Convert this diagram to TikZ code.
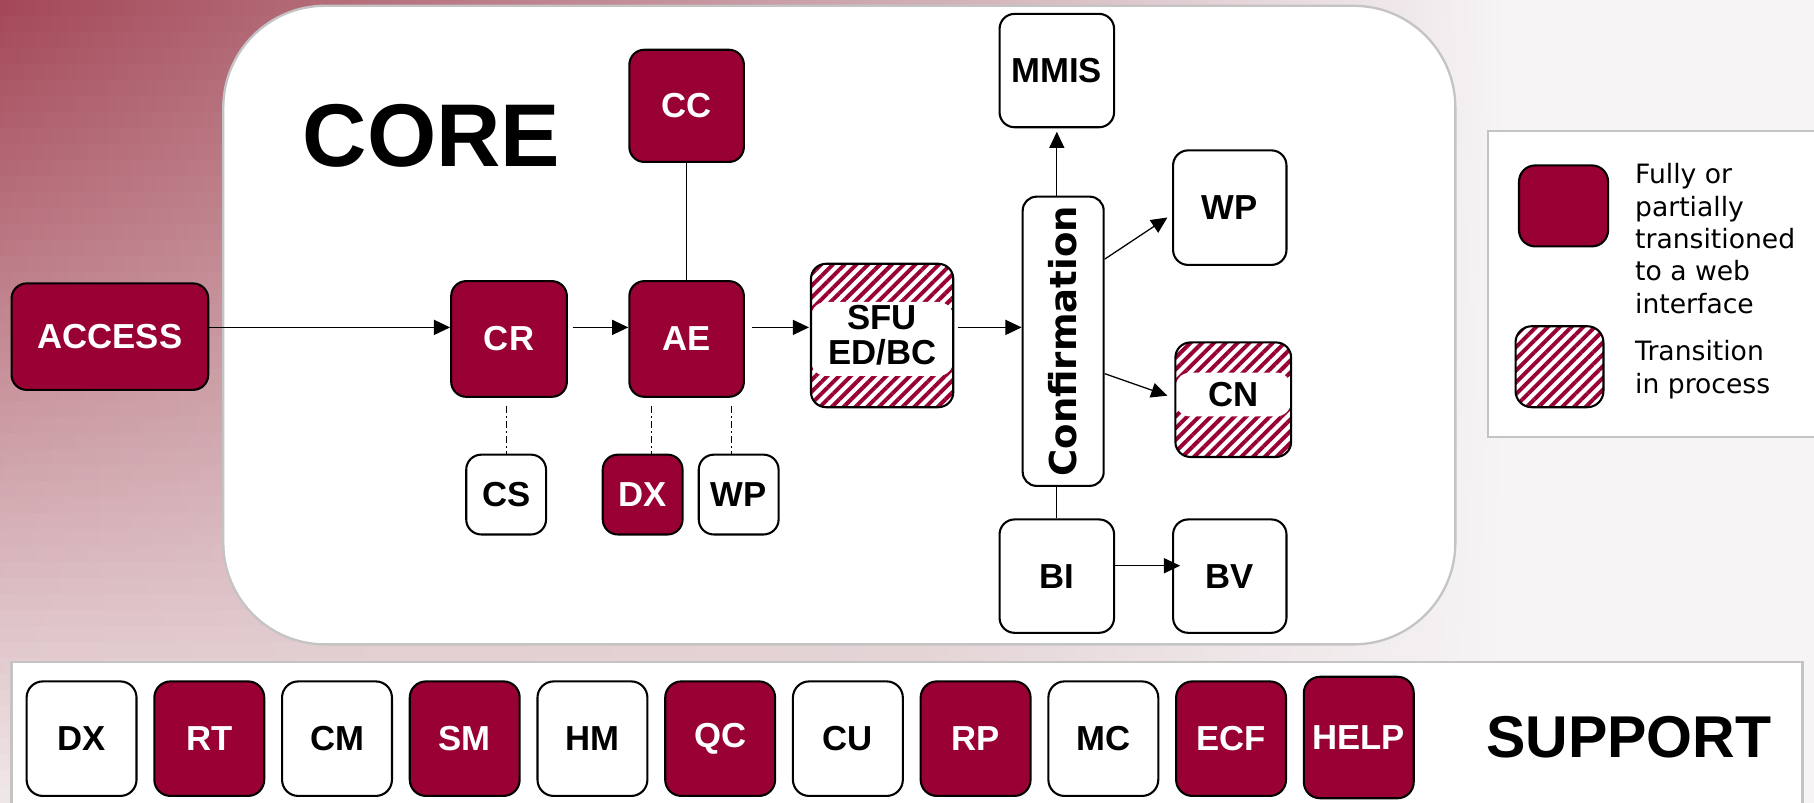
\documentclass[tikz,border=0pt]{standalone}
\usepackage{fontspec}
\setmainfont{Liberation Sans}
\newfontfamily\dvs{DejaVu Sans}
\usetikzlibrary{arrows.meta,patterns.meta,calc}
\definecolor{maroon}{RGB}{153,0,51}
\definecolor{Ltop}{RGB}{163,70,86}
\definecolor{Lbot}{RGB}{240,232,233}
\definecolor{Mtop}{RGB}{208,175,182}
\definecolor{Mbot}{RGB}{233,221,222}
\definecolor{Rcol}{RGB}{246,244,245}
\definecolor{framec}{RGB}{196,196,196}
\begin{document}
\begin{tikzpicture}[x=0.5pt,y=-0.5pt,
  box/.style={draw=black, line width=0.9pt, rounded corners=6.5pt, inner sep=0pt,
    font=\fontsize{15}{15}\selectfont\bfseries, align=center},
  sz/.style 2 args={minimum width=#1*0.5pt, minimum height=#2*0.5pt},
  web/.style={box, fill=maroon, text=white},
  plain/.style={box, fill=white, text=black},
  hatch/.style={box, preaction={fill=white},
    pattern={Lines[angle=45,distance=3.6pt,line width=1.7pt]}, pattern color=maroon, text=black},
  band/.style 2 args={path picture={\fill[white]
    ([yshift=-#1]path picture bounding box.north west) rectangle
    ([yshift=#2]path picture bounding box.south east);}},
  conn/.style={line width=0.55pt, draw=black},
  arr/.style={conn, -{Triangle[length=7pt,width=6.5pt]}},
  dd/.style={conn, line width=0.4pt, dash pattern=on 3pt off 1.5pt on 0.5pt off 1.5pt},
  frame/.style={draw=framec, line width=1pt, fill=white},
]
\useasboundingbox (0,0) rectangle (1568,694);
\clip (0,0) rectangle (1568,694);
% background
\foreach \i in {0,...,49}{
  \pgfmathsetmacro\p{100-(\i+0.5)*2}
  \shade[left color=Ltop!\p!Lbot, right color=Mtop!\p!Mbot]
    (-1,{\i*13.88}) rectangle (801,{(\i+1)*13.88+1});
  \shade[left color=Mtop!\p!Mbot, right color=Rcol]
    (800,{\i*13.88}) rectangle (1301,{(\i+1)*13.88+1});
  \fill[Rcol] (1300,{\i*13.88}) rectangle (1570,{(\i+1)*13.88+1});
}
% panels
\draw[frame, rounded corners=44pt] (193,5) rectangle (1258,557);
\draw[frame] (10,572) rectangle (1558,700);
\draw[frame] (1286,113) rectangle (1580,378);

% core
\node[font=\fontsize{38.5}{40}\selectfont\bfseries, inner sep=0pt] (core) at (373,117) {CORE};
\node[web, sz={170}{92}] (access) at (95,291) {ACCESS};
\node[web, sz={100}{100}] (cr) at (440,293) {CR};
\node[web, sz={99}{100}] (ae) at (593.5,293) {AE};
\node[web, sz={99}{97}] (cc) at (593.5,91.5) {CC};
\node[hatch, sz={123}{124}, band={16.5pt}{13.5pt}] (sfu) at (762.5,290) {SFU\\ED/BC};
\node[plain, sz={70}{250}, rounded corners=6pt,
  font=\fontsize{16}{16}\dvs\bfseries] (conf) at (919,295) {\rotatebox{90}{Confirmation}};
\node[plain, sz={99}{98}] (mmis) at (913.5,61) {MMIS};
\node[plain, sz={98}{99}] (wp) at (1063,179.5) {WP};
\node[hatch, sz={100}{99}, band={13pt}{17.5pt}, text height=10.75pt, text depth=4.5pt] (cn) at (1066,345.5) {CN};
\node[plain, sz={99}{98}] (bi) at (913.5,498) {BI};
\node[plain, sz={98}{98}] (bv) at (1063,498) {BV};
\node[plain, sz={69}{69}] (cs) at (437.5,427.5) {CS};
\node[web, sz={69}{69}] (dx) at (555.5,427.5) {DX};
\node[plain, sz={69}{69}] (wpb) at (638.5,427.5) {WP};

% connectors
\coordinate (row) at (0,283);
\coordinate (bvrow) at (0,489);
\draw[arr] (access.east |- row) -- (cr.west |- row);
\draw[arr, shorten <=2pt] (cr.east |- row) -- (ae.west |- row);
\draw[arr, shorten <=3pt] (ae.east |- row) -- (sfu.west |- row);
\draw[arr, shorten <=1pt] (sfu.east |- row) -- (conf.west |- row);
\draw[arr, shorten >=1.5pt] (conf.north -| mmis.south) -- (mmis.south);
\draw[arr] ([yshift=35.5pt]conf.east) -- ([shift={(-2pt,-4.25pt)}]wp.west);
\draw[arr] ([yshift=-14pt]conf.east) -- ([shift={(-3pt,1.75pt)}]cn.west);
\draw[conn] (conf.south -| bi.north) -- (bi.north);
\draw[arr, shorten >=-3.5pt] (bi.east |- bvrow) -- (bv.west |- bvrow);
\draw[conn] (cc.south) -- (ae.north);
\draw[dd] ($(cr.south -| cs.north)+(0,7)$) -- (cs.north);
\draw[dd] ($(ae.south)+(-30.5,7)$) -- ($(dx.north)+(7.5,0)$);
\draw[dd] ($(ae.south)+(38.5,7)$) -- ($(wpb.north)+(-6.5,0)$);

% legend
\node[web, sz={77}{70}, rounded corners=7pt] (legweb) at (1351.5,178) {};
\node[hatch, sz={76}{70}, rounded corners=7pt] (leghatch) at (1348,317) {};
\node[anchor=north west, align=left, inner sep=0pt, font=\fontsize{11.5}{14}\dvs] (legtxta) at (1413,141)
  {Fully or\\partially\\transitioned\\to a web\\interface};
\node[anchor=north west, align=left, inner sep=0pt, font=\fontsize{11.5}{14}\dvs] (legtxtb) at (1413,294)
  {Transition\\in process};

% support
\foreach \lab/\sty [count=\k from 0] in {DX/plain,RT/web,CM/plain,SM/web,HM/plain,QC/web,CU/plain,RP/web,MC/plain,ECF/web}{
  \node[\sty, sz={95}{99}, rounded corners=7pt] (s\k) at ({70.5+110.4*\k},638.5) {\lab};
}
\node[web, sz={95}{105}, rounded corners=7pt] (help) at (1174.5,637.5) {HELP};
\node[font=\fontsize{25.5}{26}\selectfont\bfseries, inner sep=0pt] (support) at (1408,637) {SUPPORT};
\end{tikzpicture}
\end{document}
